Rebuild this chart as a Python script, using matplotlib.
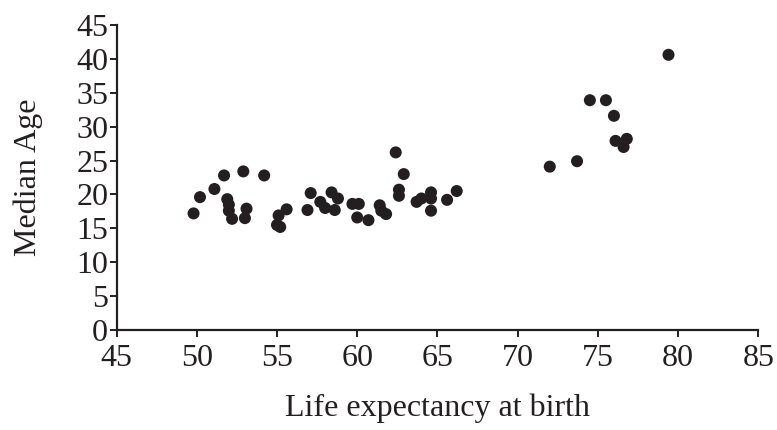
import matplotlib
matplotlib.use('Agg')
import matplotlib.pyplot as plt

# Данные: ожидаемая продолжительность жизни и медианный возраст
life_expectancy = [
    49.8, 50.2, 51.1, 51.7, 52.9, 54.2, 51.9, 52.0, 52.0, 52.2,
    53.1, 53.0, 55.6, 55.1, 55.0, 55.2, 56.9, 57.1, 57.7, 58.0,
    58.4, 58.8, 58.6, 59.7, 60.1, 60.0, 60.7, 61.4, 61.5, 61.8,
    62.4, 62.9, 62.6, 62.6, 63.7, 64.0, 64.6, 64.6, 64.6, 65.6,
    66.2, 72.0, 73.7, 74.5, 75.5, 76.0, 76.1, 76.8, 76.6, 79.4,
]
median_age = [
    17.2, 19.6, 20.8, 22.8, 23.4, 22.8, 19.3, 18.5, 17.6, 16.4,
    17.9, 16.5, 17.8, 16.9, 15.5, 15.2, 17.7, 20.2, 18.9, 18.0,
    20.3, 19.4, 17.7, 18.6, 18.6, 16.6, 16.2, 18.4, 17.6, 17.1,
    26.2, 23.0, 20.7, 19.8, 18.9, 19.4, 20.3, 19.4, 17.6, 19.2,
    20.5, 24.1, 24.9, 33.9, 33.9, 31.6, 27.9, 28.2, 27.0, 40.6,
]
x_ticks = [45, 50, 55, 60, 65, 70, 75, 80, 85]
y_ticks = [0, 5, 10, 15, 20, 25, 30, 35, 40, 45]

plt.rcParams['font.family'] = ['Liberation Serif', 'DejaVu Serif']

fig = plt.figure(figsize=(7.77, 4.30), dpi=100)
ax = fig.add_axes([0.150, 0.2326, 0.826, 0.7093])

ax.scatter(life_expectancy, median_age, s=75, color='#231f20',
           edgecolors='none', zorder=3, clip_on=False)

ax.set_xlim(45, 85)
ax.set_ylim(0, 45)
ax.set_xticks(x_ticks)
ax.set_yticks(y_ticks)

for side in ['top', 'right']:
    ax.spines[side].set_visible(False)
for side in ['left', 'bottom']:
    ax.spines[side].set_linewidth(1.6)
    ax.spines[side].set_color('#231f20')

ax.tick_params(axis='both', direction='out', length=5, width=1.4,
               color='#231f20', labelsize=23, labelcolor='#231f20')
ax.tick_params(axis='x', pad=5)
ax.tick_params(axis='y', pad=1)

ax.set_xlabel('Life expectancy at birth', fontsize=23, color='#231f20',
              labelpad=15)
ax.set_ylabel('Median Age', fontsize=23, color='#231f20', labelpad=24)

fig.savefig('out.png', dpi=100)
